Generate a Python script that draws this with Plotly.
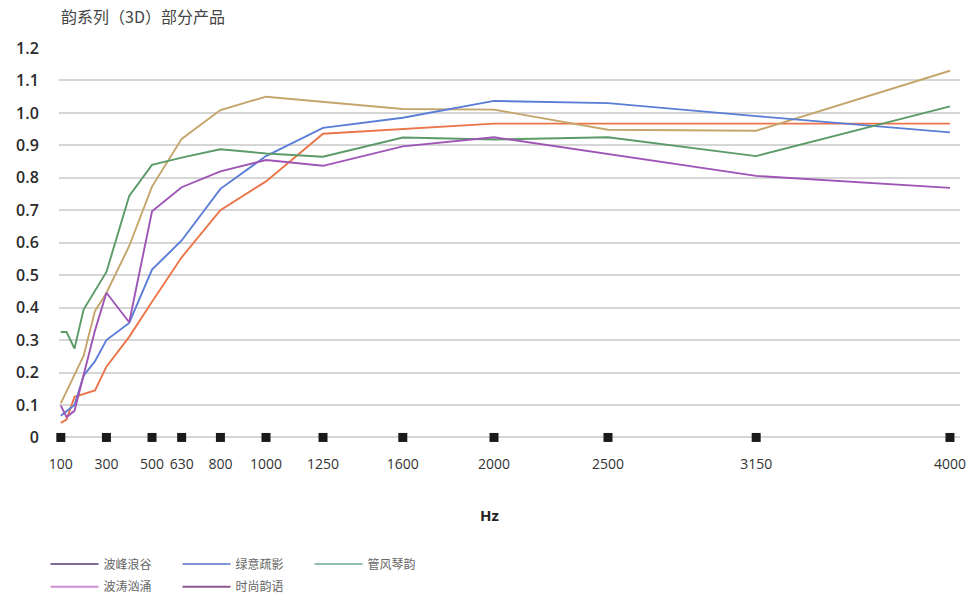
"""韵系列（3D）部分产品 吸声系数曲线（Plotly 版）。"""

import plotly.graph_objects as go

# 频率刻度（Hz）
hz_ticks = [100, 300, 500, 630, 800, 1000, 1250, 1600, 2000, 2500, 3150, 4000]
y_ticks = [0, 0.1, 0.2, 0.3, 0.4, 0.5, 0.6, 0.7, 0.8, 0.9, 1.0, 1.1, 1.2]
y_tick_text = ["0", "0.1", "0.2", "0.3", "0.4", "0.5", "0.6", "0.7", "0.8", "0.9", "1.0", "1.1", "1.2"]

# 各产品曲线
bofeng_hz = [100, 125, 160, 250, 300, 400, 500, 630, 800, 1000, 1250, 1600, 2000, 2500, 3150, 4000]
bofeng_val = [0.045, 0.055, 0.125, 0.145, 0.218, 0.31, 0.418, 0.555, 0.70, 0.789, 0.936, 0.951, 0.967, 0.967, 0.967, 0.967]

botao_hz = [100, 200, 250, 300, 400, 500, 630, 800, 1000, 1250, 1600, 2000, 2500, 3150, 4000]
botao_val = [0.105, 0.252, 0.39, 0.445, 0.59, 0.773, 0.92, 1.009, 1.05, 1.035, 1.012, 1.01, 0.948, 0.945, 1.13]

lvyi_hz = [100, 160, 200, 250, 300, 400, 500, 630, 800, 1000, 1250, 1600, 2000, 2500, 3150, 4000]
lvyi_val = [0.067, 0.1, 0.19, 0.235, 0.30, 0.353, 0.517, 0.607, 0.766, 0.867, 0.954, 0.985, 1.037, 1.03, 0.99, 0.94]

guanfeng_hz = [100, 125, 160, 200, 300, 400, 500, 630, 800, 1000, 1250, 1600, 2000, 2500, 3150, 4000]
guanfeng_val = [0.325, 0.325, 0.274, 0.394, 0.51, 0.744, 0.84, 0.862, 0.888, 0.875, 0.865, 0.924, 0.918, 0.925, 0.867, 1.02]

shishang_hz = [100, 125, 160, 200, 250, 300, 400, 500, 630, 800, 1000, 1250, 1600, 2000, 2500, 3150, 4000]
shishang_val = [0.098, 0.063, 0.082, 0.19, 0.33, 0.446, 0.355, 0.697, 0.771, 0.82, 0.855, 0.837, 0.897, 0.925, 0.874, 0.806, 0.769]

# 图例（原图图例颜色与曲线颜色不一致，单独画）
legend_row1 = ["波峰浪谷", "绿意疏影", "管风琴韵"]
legend_row2 = ["波涛汹涌", "时尚韵语"]

NUM_FONT = "Open Sans, Noto Sans CJK SC, sans-serif"
CJK_FONT = "Noto Sans CJK SC, sans-serif"

fig = go.Figure()

curves = [
    ("波峰浪谷", bofeng_hz, bofeng_val, "#ec7449"),
    ("波涛汹涌", botao_hz, botao_val, "#c4a56c"),
    ("绿意疏影", lvyi_hz, lvyi_val, "#5a7ed6"),
    ("管风琴韵", guanfeng_hz, guanfeng_val, "#5c9b68"),
    ("时尚韵语", shishang_hz, shishang_val, "#9e55b5"),
]
for name, xs, ys, color in curves:
    fig.add_trace(go.Scatter(x=xs, y=ys, name=name, mode="lines",
                             line=dict(color=color, width=1.9), showlegend=False))

# 横轴上的黑色方块刻度
fig.add_trace(go.Scatter(x=hz_ticks, y=[0] * len(hz_ticks), mode="markers",
                         marker=dict(symbol="square", size=9, color="#1a1a1a"),
                         showlegend=False, cliponaxis=False, hoverinfo="skip"))

legend_colors = {
    "波峰浪谷": "#7d6b98", "绿意疏影": "#7f93d8", "管风琴韵": "#8cbfad",
    "波涛汹涌": "#d08fd6", "时尚韵语": "#8c5591",
}
for name in legend_row1:
    fig.add_trace(go.Scatter(x=[None], y=[None], mode="lines", name=name,
                             line=dict(color=legend_colors[name], width=2), legend="legend"))
for name in legend_row2:
    fig.add_trace(go.Scatter(x=[None], y=[None], mode="lines", name=name,
                             line=dict(color=legend_colors[name], width=2), legend="legend2"))

legend_style = dict(
    orientation="h", xanchor="left", yanchor="middle",
    font=dict(family=CJK_FONT, size=12, color="#666666"),
    entrywidth=69, itemwidth=48, bgcolor="rgba(0,0,0,0)", tracegroupgap=0,
)

fig.update_layout(
    width=969, height=598,
    margin=dict(l=59, r=9, t=48, b=150, autoexpand=False),
    paper_bgcolor="white", plot_bgcolor="white",
    font=dict(family=NUM_FONT, color="#333333"),
    legend=dict(x=-0.015, y=-0.29, **legend_style),
    legend2=dict(x=-0.015, y=-0.347, **legend_style),
    xaxis=dict(
        range=[92, 4044], tickvals=hz_ticks, ticktext=[str(v) for v in hz_ticks],
        showgrid=False, zeroline=False, showline=False, automargin=False,
        ticks="outside", ticklen=3, tickcolor="rgba(0,0,0,0)",
        tickfont=dict(size=14, color="#333333"),
    ),
    yaxis=dict(
        range=[-0.0325, 1.2], tickvals=y_ticks, ticktext=y_tick_text,
        showgrid=True, gridcolor="#d6d6d6", gridwidth=1.5,
        zeroline=False, showline=False, automargin=False,
        ticks="outside", ticklen=16, tickcolor="rgba(0,0,0,0)",
        tickfont=dict(size=16, color="#2a2a2a", weight=600),
    ),
    annotations=[
        dict(text="韵系列（3D）部分产品", xref="paper", yref="paper",
             x=0.0, y=1.08, xanchor="left", yanchor="middle", showarrow=False,
             font=dict(family=CJK_FONT, size=16, color="#444444")),
        dict(text="<b>Hz</b>", xref="paper", yref="paper",
             x=0.478, y=-0.167, xanchor="center", yanchor="middle", showarrow=False,
             font=dict(family=NUM_FONT, size=15, color="#222222")),
    ],
)

# 去掉页面默认 8px 边距，让图正好铺满窗口；不显示工具栏
fig.write_html("out.html", config={"displayModeBar": False},
               post_script="document.body.style.margin = '0';")
